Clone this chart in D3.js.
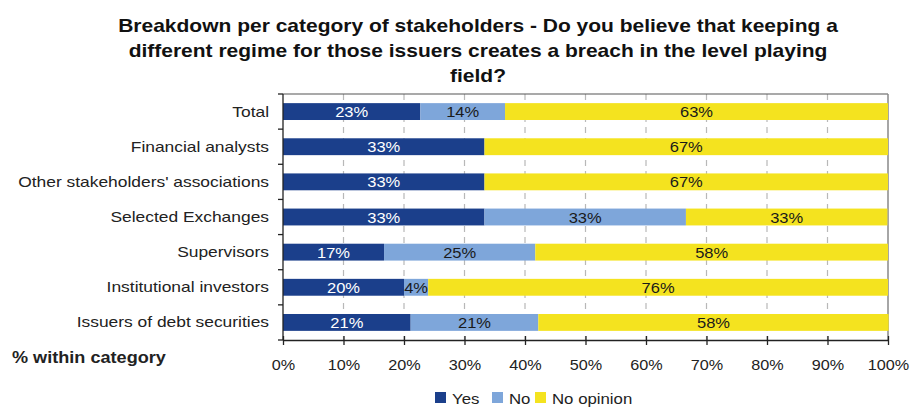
<!DOCTYPE html>
<html>
<head>
<meta charset="utf-8">
<script src="https://cdn.jsdelivr.net/npm/d3@7/dist/d3.min.js"></script>
<style>
  html, body { margin: 0; padding: 0; background: #fff; }
  svg { display: block; font-family: "Liberation Sans", Arial, sans-serif; }
</style>
</head>
<body>
<svg id="chart" width="910" height="407"></svg>
<script>
// Survey answers, share of respondents per stakeholder group (%)
const categories = [
  "Total",
  "Financial analysts",
  "Other stakeholders' associations",
  "Selected Exchanges",
  "Supervisors",
  "Institutional investors",
  "Issuers of debt securities"
];
const seriesNames = ["Yes", "No", "No opinion"];
const yesValues = [22.7, 33.3, 33.3, 33.3, 16.7, 20.0, 21.1];
const noValues = [14.0, 0, 0, 33.3, 25.0, 4.0, 21.1];
const noOpinionValues = [63.3, 66.7, 66.7, 33.3, 58.3, 76.0, 57.9];
const xTicks = [0, 10, 20, 30, 40, 50, 60, 70, 80, 90, 100];
const titleLines = [
  "Breakdown per category of stakeholders - Do you believe that keeping a",
  "different regime for those issuers creates a breach in the level playing",
  "field?"
];

const colors = ["#1b3f8b", "#7ea6da", "#f4e31f"];
const labelColors = ["#ffffff", "#1a1a1a", "#1a1a1a"];

const rows = categories.map((c, i) => ({
  category: c,
  "Yes": yesValues[i],
  "No": noValues[i],
  "No opinion": noOpinionValues[i]
}));

const svg = d3.select("#chart");
const margin = { left: 283, right: 22, top: 94, bottom: 67 };
const W = 910, H = 407;
const innerW = W - margin.left - margin.right;
const innerH = H - margin.top - margin.bottom;

const x = d3.scaleLinear().domain([0, 100]).range([margin.left, margin.left + innerW]);
const y = d3.scaleBand().domain(categories).range([margin.top, margin.top + innerH])
  .paddingInner(0.52).paddingOuter(0.26);

// Place a text at (tx, ty) with a slight horizontal stretch
const place = (sel, tx, ty, sx) =>
  sel.attr("transform", (d, i) => `translate(${typeof tx === "function" ? tx(d, i) : tx},${typeof ty === "function" ? ty(d, i) : ty}) scale(${sx},1)`);

// Title
const title = svg.append("g").selectAll("text").data(titleLines).join("text")
  .attr("text-anchor", "middle")
  .attr("font-size", 19).attr("font-weight", "bold").attr("fill", "#111")
  .text(d => d);
const titleScale = 720 / title.node().getComputedTextLength();
place(title, 478, (d, i) => 32 + i * 25, titleScale);

// Dashed vertical grid lines
svg.append("g").selectAll("line").data(xTicks.slice(1, -1)).join("line")
  .attr("x1", d => x(d)).attr("x2", d => x(d))
  .attr("y1", margin.top).attr("y2", margin.top + innerH)
  .attr("stroke", "#b8b8b8").attr("stroke-width", 1.2).attr("stroke-dasharray", "6,5");

// Plot frame: top and right borders
svg.append("line").attr("x1", margin.left).attr("x2", x(100))
  .attr("y1", margin.top).attr("y2", margin.top).attr("stroke", "#555").attr("stroke-width", 1.2);
svg.append("line").attr("x1", x(100)).attr("x2", x(100))
  .attr("y1", margin.top).attr("y2", margin.top + innerH).attr("stroke", "#888").attr("stroke-width", 1.5);

// Stacked bars
const stacked = d3.stack().keys(seriesNames)(rows);
const layers = svg.append("g").selectAll("g").data(stacked).join("g")
  .attr("fill", (d, i) => colors[i]);
layers.selectAll("rect").data(d => d).join("rect")
  .attr("x", d => x(d[0]))
  .attr("y", d => y(d.data.category))
  .attr("width", d => x(d[1]) - x(d[0]))
  .attr("height", y.bandwidth());

// Value labels
const fmt = v => d3.format(".0f")(v) + "%";
stacked.forEach((layer, li) => {
  const t = svg.append("g").selectAll("text").data(layer.filter(d => d[1] - d[0] > 0)).join("text")
    .attr("text-anchor", "middle")
    .attr("font-size", 15).attr("fill", labelColors[li])
    .text(d => fmt(d[1] - d[0]));
  place(t, d => x((d[0] + d[1]) / 2), d => y(d.data.category) + y.bandwidth() / 2 + 5.5, 1.1);
});

// Left axis with category labels
const yAxis = svg.append("g").attr("transform", `translate(${margin.left},0)`);
yAxis.append("line").attr("x1", 0).attr("x2", 0)
  .attr("y1", margin.top).attr("y2", margin.top + innerH).attr("stroke", "#222").attr("stroke-width", 1.3);
const boundaries = d3.range(categories.length + 1).map(i => margin.top + i * innerH / categories.length);
yAxis.selectAll("line.tick").data(boundaries).join("line").attr("class", "tick")
  .attr("x1", -5).attr("x2", 0).attr("y1", d => d).attr("y2", d => d)
  .attr("stroke", "#222").attr("stroke-width", 1.3);
const catLabels = yAxis.selectAll("text").data(categories).join("text")
  .attr("text-anchor", "end").attr("font-size", 15).attr("fill", "#222")
  .text(d => d);
place(catLabels, -14, d => y(d) + y.bandwidth() / 2 + 5, 1.16);

// Bottom axis
const xAxis = svg.append("g").attr("transform", `translate(0,${margin.top + innerH})`)
  .call(d3.axisBottom(x).tickValues(xTicks).tickSize(0).tickFormat(d => d + "%"));
xAxis.select(".domain").attr("stroke", "#222").attr("stroke-width", 1.3);
xAxis.selectAll(".tick line").attr("y1", -4).attr("y2", 5).attr("stroke", "#222").attr("stroke-width", 1.3);
xAxis.selectAll(".tick text").attr("y", 0).attr("dy", null).attr("font-size", 15)
  .attr("font-family", "Liberation Sans, Arial, sans-serif").attr("fill", "#222")
  .attr("transform", "translate(0,29.5) scale(1.08,1)");

const within = svg.append("text")
  .attr("font-size", 16).attr("font-weight", "bold").attr("fill", "#222")
  .text("% within category");
place(within, 12, 363, 154 / within.node().getComputedTextLength());

// Legend
const legendItems = seriesNames.map((name, i) => ({ name, color: colors[i], box: [435, 492, 535][i] }));
const legend = svg.append("g");
legend.selectAll("rect").data(legendItems).join("rect")
  .attr("x", d => d.box).attr("y", 392).attr("width", 11).attr("height", 11)
  .attr("fill", d => d.color);
const legText = legend.selectAll("text").data(legendItems).join("text")
  .attr("font-size", 14).attr("fill", "#222").text(d => d.name);
place(legText, d => d.box + 17, 404, 1.2);
</script>
</body>
</html>
